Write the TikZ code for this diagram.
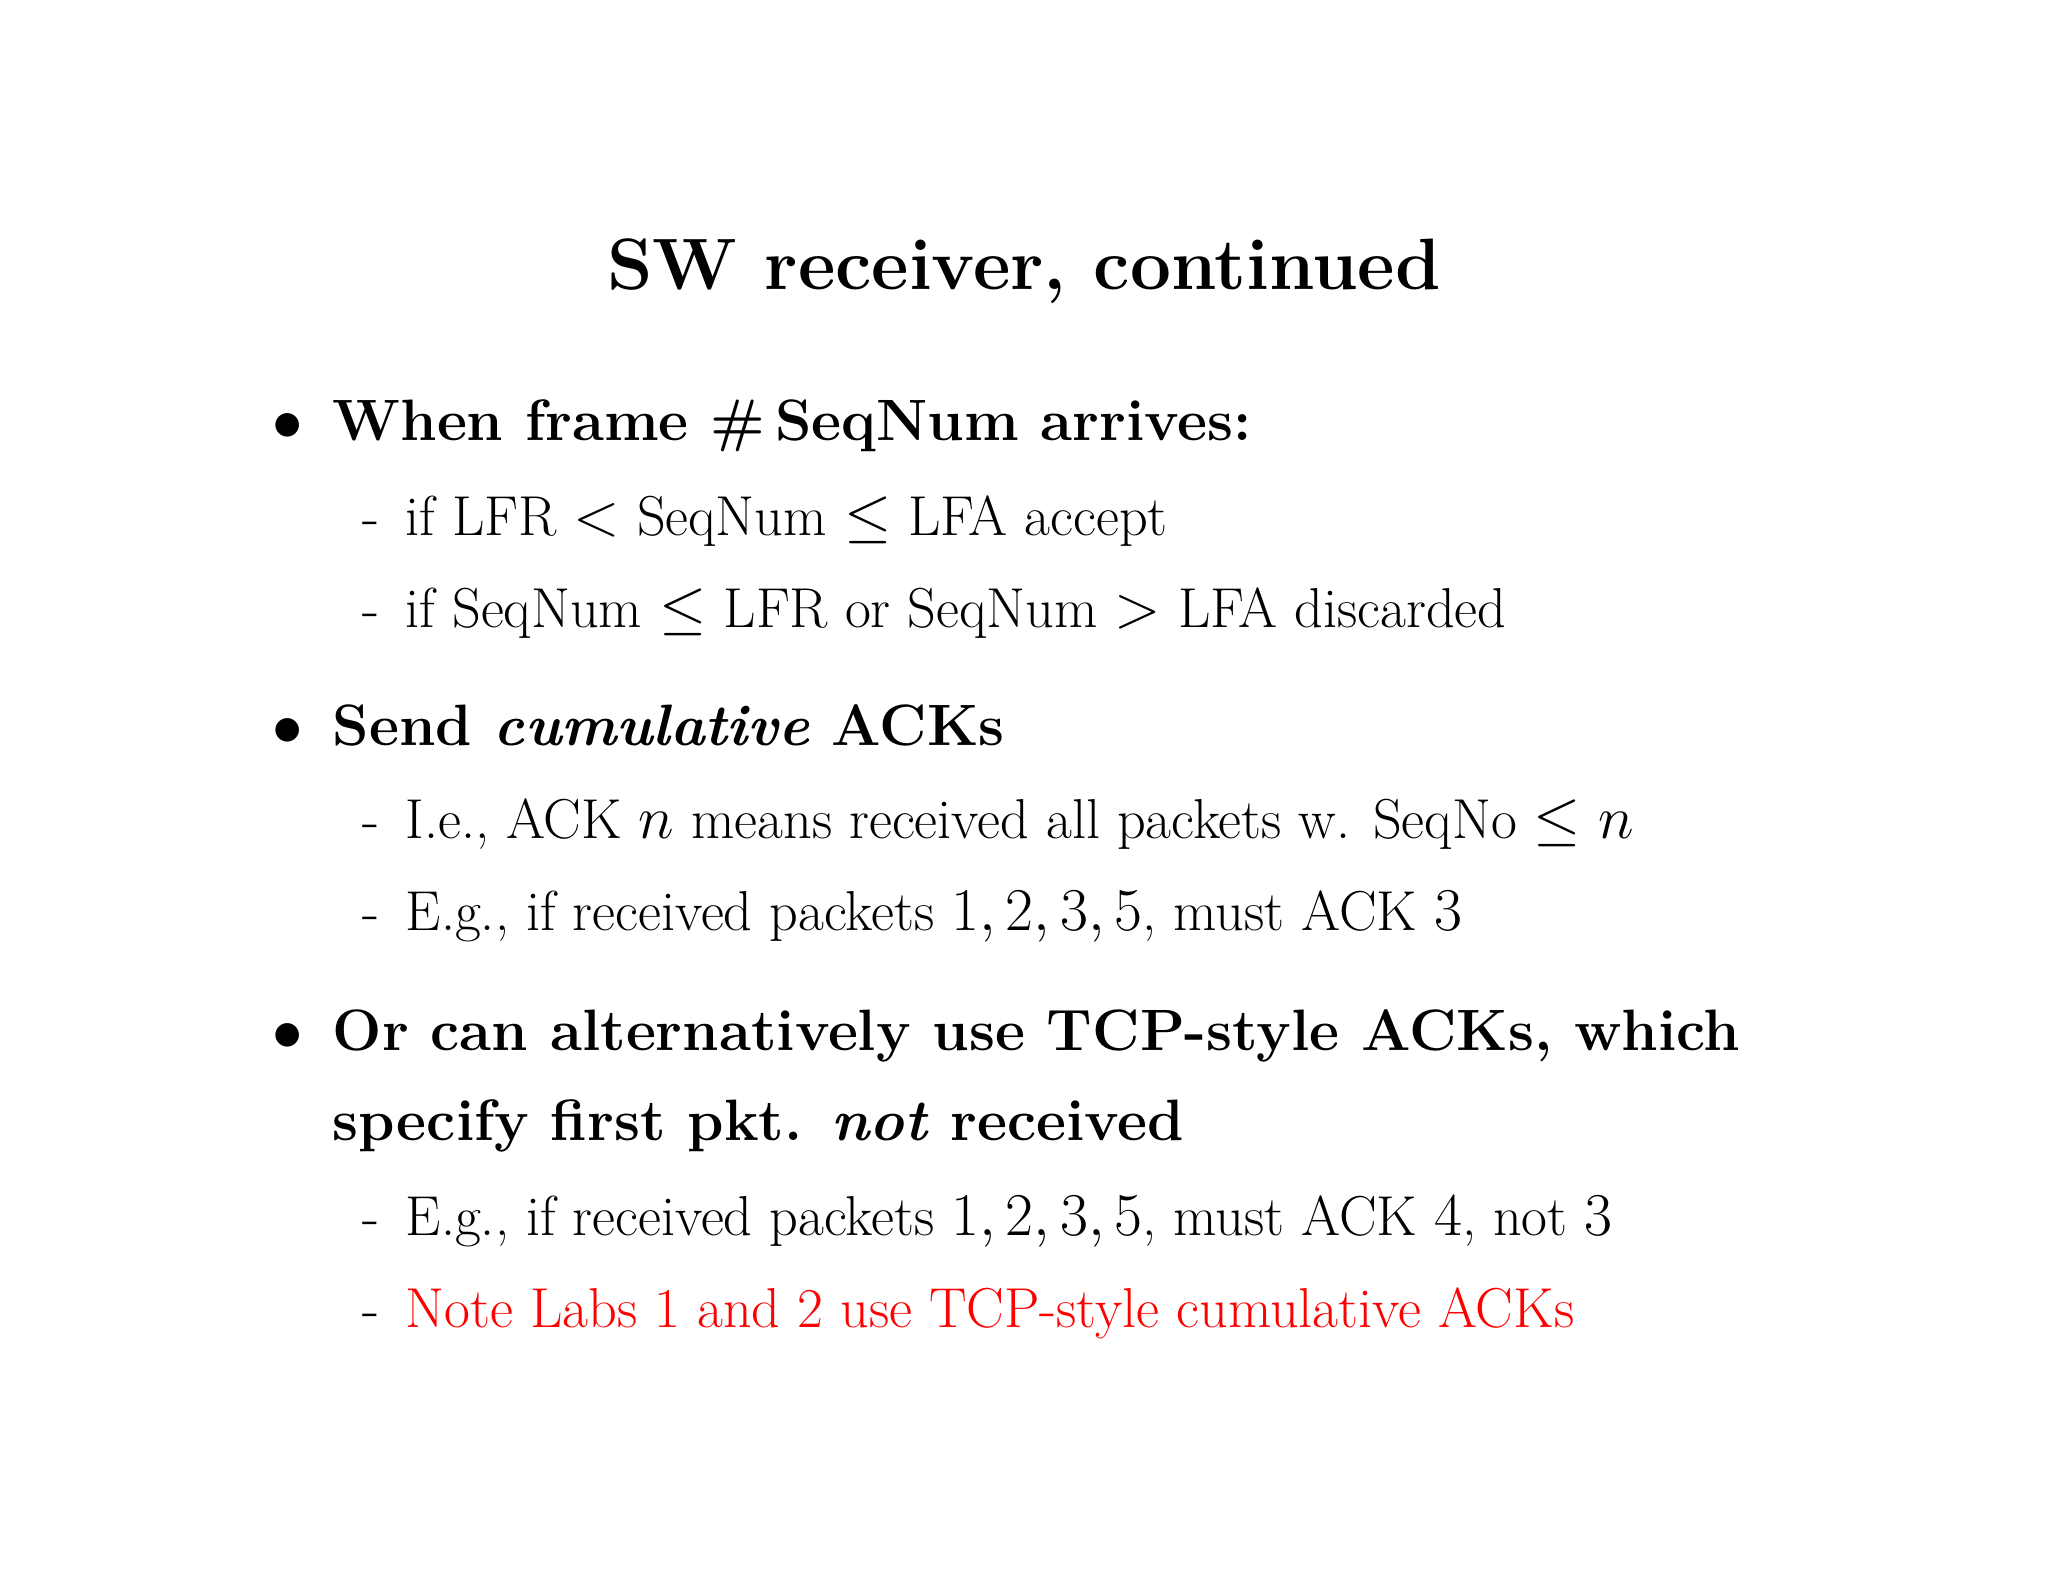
\documentclass[tikz,border=0pt]{standalone}
\usepackage{amsmath}
\begin{document}
\begin{tikzpicture}[x=0.01cm,y=-0.01cm,
  ttl/.style={font=\fontsize{20.7}{25}\selectfont\bfseries, anchor=base},
  lvone/.style={font=\fontsize{16.6}{20}\selectfont\bfseries, anchor=base west, inner sep=0pt},
  lvtwo/.style={font=\fontsize{16}{19}\selectfont, anchor=base west, inner sep=0pt}]
\useasboundingbox (0,0) rectangle (2048,1582);
\node[ttl] (t) at (1024,290) {SW receiver, continued};
\node[lvone] (b1d) at (272,440) {$\bullet$};
\node[lvone] (b1) at (332,440) {When frame \#\,SeqNum arrives:};
\node[lvtwo] (s1d) at (362,535) {-};
\node[lvtwo] (s1) at (405,535) {if LFR $<$ SeqNum $\le$ LFA accept};
\node[lvtwo] (s2d) at (362,627) {-};
\node[lvtwo] (s2) at (405,627) {if SeqNum $\le$ LFR or SeqNum $>$ LFA discarded};
\node[lvone] (b2d) at (272,745) {$\bullet$};
\node[lvone] (b2) at (332,745) {Send \textit{cumulative} ACKs};
\node[lvtwo] (s3d) at (362,838) {-};
\node[lvtwo] (s3) at (405,838) {I.e., ACK $n$ means received all packets w. SeqNo $\le n$};
\node[lvtwo] (s4d) at (362,930) {-};
\node[lvtwo] (s4) at (405,930) {E.g., if received packets $1,2,3,5$, must ACK $3$};
\node[lvone] (b3d) at (272,1050) {$\bullet$};
\node[lvone] (b3) at (332,1050) {Or can alternatively use TCP-style ACKs, which};
\node[lvone] (b3b) at (332,1140) {specify first pkt. \textit{not} received};
\node[lvtwo] (s5d) at (362,1235) {-};
\node[lvtwo] (s5) at (405,1235) {E.g., if received packets $1,2,3,5$, must ACK $4$, not $3$};
\node[lvtwo] (s6d) at (362,1327) {-};
\node[lvtwo,text=red] (s6) at (405,1327) {Note Labs 1 and 2 use TCP-style cumulative ACKs};
\end{tikzpicture}
\end{document}
